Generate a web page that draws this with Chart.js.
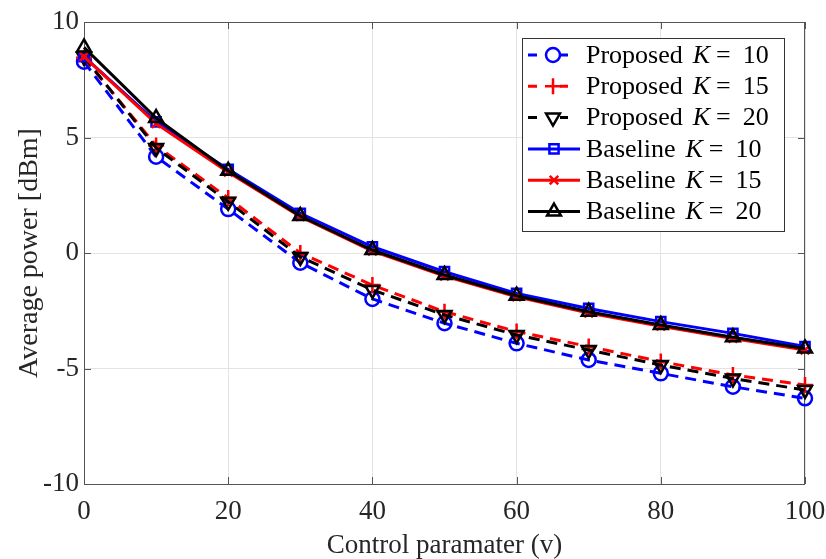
<!DOCTYPE html>
<html>
<head>
<meta charset="utf-8">
<script src="https://cdn.jsdelivr.net/npm/chart.js@4.4.1/dist/chart.umd.min.js"></script>
<style>
  html, body { margin: 0; padding: 0; background: #fff; }
  #wrap { width: 826px; height: 559px; }
</style>
</head>
<body>
<div id="wrap"><canvas id="mycanvas1" width="826" height="559"></canvas></div>
<script>
// x values (control parameter v)
var xVals = [0, 10, 20, 30, 40, 50, 60, 70, 80, 90, 100];

// average power [dBm]
var proposedK10 = [8.28, 4.17, 1.9, -0.42, -1.99, -3.04, -3.91, -4.63, -5.21, -5.79, -6.29];
var proposedK15 = [8.45, 4.65, 2.38, 0.0, -1.39, -2.54, -3.4, -4.05, -4.7, -5.28, -5.71];
var proposedK20 = [8.5, 4.55, 2.22, -0.17, -1.6, -2.68, -3.55, -4.2, -4.85, -5.43, -5.93];
var baselineK10 = [8.5, 5.68, 3.62, 1.72, 0.27, -0.81, -1.75, -2.4, -2.97, -3.48, -4.05];
var baselineK15 = [8.5, 5.6, 3.5, 1.57, 0.08, -1.0, -1.9, -2.6, -3.17, -3.7, -4.2];
var baselineK20 = [8.9, 5.84, 3.56, 1.6, 0.13, -0.95, -1.85, -2.54, -3.12, -3.65, -4.13];

var xTicks = [0, 20, 40, 60, 80, 100];
var yTicks = [-10, -5, 0, 5, 10];

var legendNames = ["Proposed", "Proposed", "Proposed", "Baseline", "Baseline", "Baseline"];
var legendK = ["10", "15", "20", "10", "15", "20"];

var BLUE = "#0000ff", RED = "#ff0000", BLACK = "#000000";
var FONT = "'Liberation Serif', 'Times New Roman', serif";

function pts(arr) {
	var out = [];
	for (var i = 0; i < arr.length; i++) out.push({x: xVals[i], y: arr[i]});
	return out;
}

function ds(label, arr, color, dashed, style, rot, radius, order) {
	return {
		label: label,
		data: pts(arr),
		borderColor: color,
		backgroundColor: color,
		borderWidth: 3,
		borderDash: dashed ? [11, 7] : [],
		pointStyle: style,
		rotation: rot,
		pointRadius: radius,
		pointBorderWidth: 2.5,
		pointBorderColor: color,
		pointBackgroundColor: "rgba(0,0,0,0)",
		tension: 0,
		clip: false,
		order: order
	};
}

var datasets = [
	ds("Proposed K = 10", proposedK10, BLUE, true, "circle", 0, 7, 5),
	ds("Proposed K = 15", proposedK15, RED, true, "cross", 0, 8, 4),
	ds("Proposed K = 20", proposedK20, BLACK, true, "triangle", 180, 8, 3),
	ds("Baseline K = 10", baselineK10, BLUE, false, "rect", 0, 6.5, 2),
	ds("Baseline K = 15", baselineK15, RED, false, "crossRot", 0, 6, 1),
	ds("Baseline K = 20", baselineK20, BLACK, false, "triangle", 0, 8, 0)
];

// box, inner tick marks and the legend
var boxPlugin = {
	id: "boxPlugin",
	beforeDatasetsDraw: function(chart) {
		var ctx = chart.ctx, a = chart.chartArea;
		var xs = chart.scales.x, ys = chart.scales.y;
		ctx.save();
		ctx.strokeStyle = "#555";
		ctx.lineWidth = 1;
		ctx.strokeRect(a.left + 0.5, a.top + 0.5, a.right - a.left - 1, a.bottom - a.top);
		// tick marks inside
		for (var i = 0; i < xTicks.length; i++) {
			var px = Math.round(xs.getPixelForValue(xTicks[i])) + 0.5;
			ctx.beginPath();
			ctx.moveTo(px, a.bottom); ctx.lineTo(px, a.bottom - 7);
			ctx.moveTo(px, a.top); ctx.lineTo(px, a.top + 7);
			ctx.stroke();
		}
		for (var j = 0; j < yTicks.length; j++) {
			var py = Math.round(ys.getPixelForValue(yTicks[j])) + 0.5;
			ctx.beginPath();
			ctx.moveTo(a.left, py); ctx.lineTo(a.left + 7, py);
			ctx.moveTo(a.right, py); ctx.lineTo(a.right - 7, py);
			ctx.stroke();
		}
		ctx.restore();
	},
	afterDraw: function(chart) {
		var ctx = chart.ctx;
		ctx.save();
		// legend
		var lx = 522, ly = 38, lw = 262, lh = 193;
		ctx.fillStyle = "#fff";
		ctx.fillRect(lx, ly, lw, lh);
		ctx.strokeStyle = "#333";
		ctx.lineWidth = 1;
		ctx.strokeRect(lx + 0.5, ly + 0.5, lw, lh);
		var rowH = 31.3;
		for (var k = 0; k < datasets.length; k++) {
			var d = datasets[k];
			var cy = ly + 17 + k * rowH;
			ctx.strokeStyle = d.borderColor;
			ctx.lineWidth = 3;
			ctx.beginPath();
			if (d.borderDash.length) {
				ctx.moveTo(528, cy); ctx.lineTo(537, cy);
				ctx.moveTo(560, cy); ctx.lineTo(568, cy);
			} else {
				ctx.moveTo(528, cy); ctx.lineTo(580, cy);
			}
			ctx.stroke();
			var mx = d.borderDash.length ? 553 : 554;
			ctx.lineWidth = d.pointBorderWidth;
			ctx.fillStyle = "rgba(0,0,0,0)";
			Chart.helpers.drawPoint(ctx, {
				pointStyle: d.pointStyle,
				rotation: d.rotation,
				radius: d.pointRadius,
				borderWidth: d.pointBorderWidth
			}, mx, cy);
			// text with italic K
			ctx.fillStyle = "#000";
			ctx.textBaseline = "middle";
			ctx.textAlign = "left";
			var tx = 586;
			ctx.font = "26px " + FONT;
			var s1 = legendNames[k];
			ctx.fillText(s1, tx, cy + 1);
			tx += ctx.measureText(s1).width + 10;
			ctx.font = "italic 26px " + FONT;
			ctx.fillText("K", tx, cy + 1);
			tx += ctx.measureText("K").width + 6;
			ctx.font = "26px " + FONT;
			ctx.fillText("=", tx, cy + 1);
			tx += ctx.measureText("=").width + 12;
			ctx.fillText(legendK[k], tx, cy + 1);
		}
		ctx.restore();
	}
};

var ctx = document.getElementById("mycanvas1");
var chart = new Chart(ctx, {
	type: "line",
	data: { datasets: datasets },
	plugins: [boxPlugin],
	options: {
		responsive: false,
		animation: false,
		layout: { padding: { left: 0, right: 21, top: 22, bottom: 0 } },
		plugins: { legend: { display: false }, tooltip: { enabled: false } },
		scales: {
			x: {
				type: "linear",
				min: 0, max: 100,
				afterBuildTicks: function(s) { s.ticks = xTicks.map(function(v) { return {value: v}; }); },
				afterFit: function(s) { s.height = 75; s.paddingLeft = 0; s.paddingRight = 0; },
				grid: { color: "#e3e3e3", lineWidth: 1, drawTicks: false },
				border: { display: false },
				ticks: { color: "#262626", padding: 12, font: { family: FONT, size: 27 } },
				title: { display: true, text: "Control paramater (v)", color: "#262626",
					font: { family: FONT, size: 27, lineHeight: 1 }, padding: { top: 0, bottom: 0 } }
			},
			y: {
				type: "linear",
				min: -10, max: 10,
				afterBuildTicks: function(s) { s.ticks = yTicks.map(function(v) { return {value: v}; }); },
				afterFit: function(s) { s.width = 84; s.paddingTop = 0; s.paddingBottom = 0; },
				grid: { color: "#e3e3e3", lineWidth: 1, drawTicks: false },
				border: { display: false },
				ticks: { color: "#262626", padding: 5, font: { family: FONT, size: 27 } },
				title: { display: true, text: "Average power [dBm]", color: "#262626",
					font: { family: FONT, size: 28, lineHeight: 1 }, padding: { top: 16, bottom: 0 } }
			}
		}
	}
});
</script>
</body>
</html>
